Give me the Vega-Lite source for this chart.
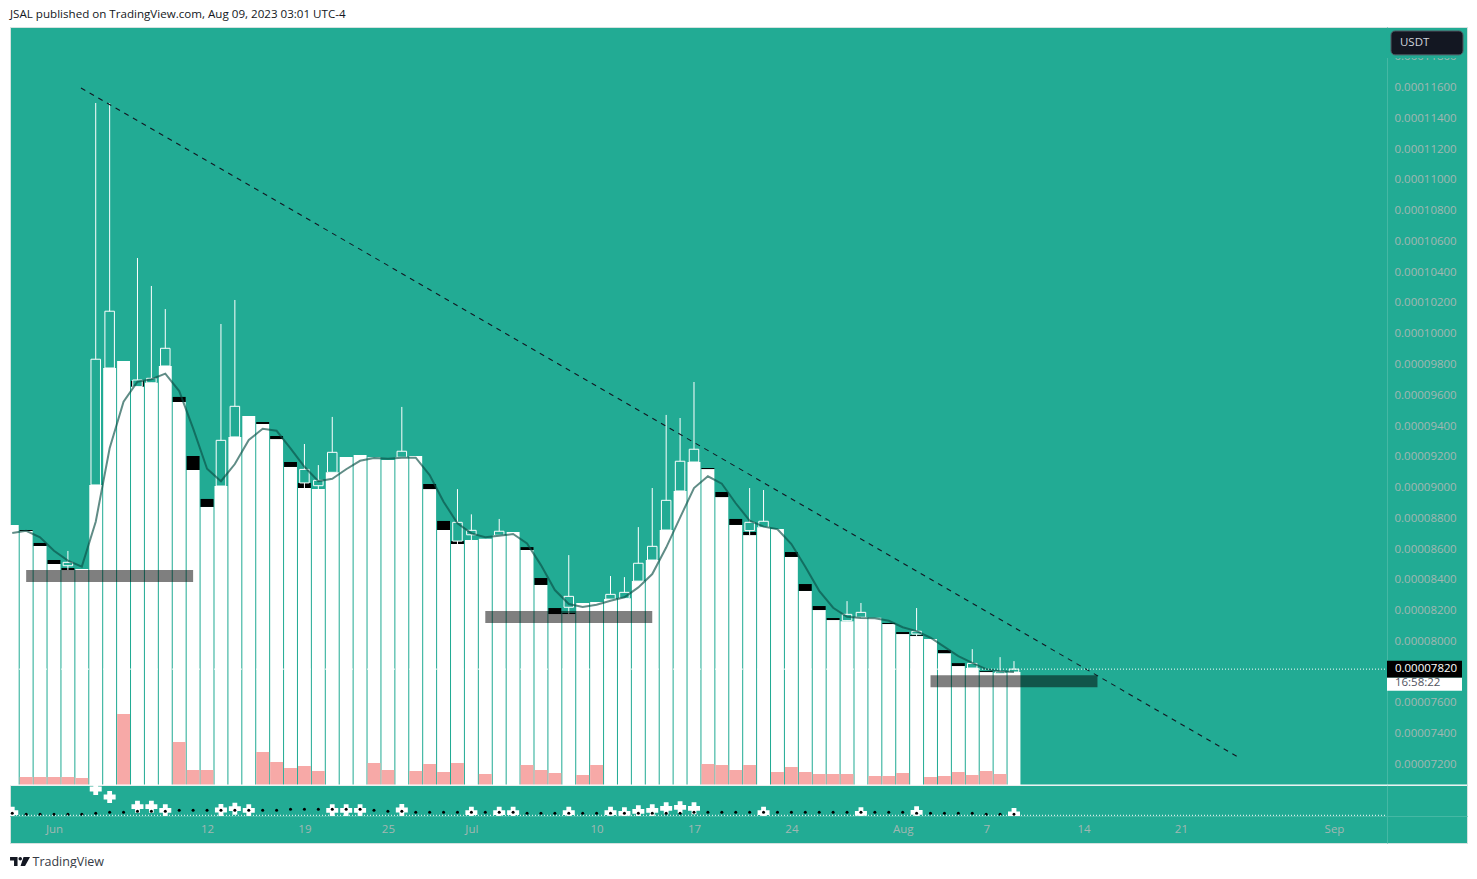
{
  "$schema": "https://vega.github.io/schema/vega-lite/v6.json",
  "background": "#ffffff",
  "padding": {"left": 9, "top": 8, "right": 10, "bottom": 0},
  "spacing": 0,
  "bounds": "flush",
  "title": {"text": "JSAL published on TradingView.com, Aug 09, 2023 03:01 UTC-4", "anchor": "start", "frame": "group", "fontSize": 11.6, "fontWeight": "normal", "font": "Open Sans", "color": "#131722", "offset": 6},
  "config": {
    "font": "Open Sans",
    "view": {"fill": "#22ab94", "stroke": "#d5e2e0"},
    "axis": {"grid": false, "ticks": false, "labelColor": "#a2b7b3", "labelFont": "Open Sans", "labelFontSize": 11.5, "domainColor": "#45b8a4", "labelOverlap": false, "labelFlush": false, "labelBound": false}
  },
  "data": {"name": "days"},
  "datasets": {
    "days": [
      {"date": "2023-05-29", "base": 0.00008757, "ma": 0.00008705, "dot": 2.7, "cross": 3.3},
      {"date": "2023-05-30", "base": 0.00008717, "blackTop": 0.00008724, "ma": 0.00008719, "pink": 8, "dot": 1.7},
      {"date": "2023-05-31", "base": 0.0000862, "blackTop": 0.0000864, "ma": 0.00008677, "pink": 8, "dot": 1.7},
      {"date": "2023-06-01", "base": 0.00008503, "blackTop": 0.00008529, "ma": 0.00008589, "pink": 8, "dot": 1.7},
      {"date": "2023-06-02", "base": 0.00008464, "blackTop": 0.00008477, "open": 0.00008492, "close": 0.00008514, "high": 0.00008588, "low": 0.00008464, "ma": 0.00008525, "pink": 8, "dot": 1.7},
      {"date": "2023-06-03", "base": 0.0000847, "ma": 0.00008486, "pink": 7, "dot": 1.7},
      {"date": "2023-06-04", "base": 0.00009017, "open": 0.00009017, "close": 0.00009834, "high": 0.00011499, "low": 0.00009017, "ma": 0.00008778, "dot": 2.7, "cross": 27},
      {"date": "2023-06-05", "base": 0.00009777, "open": 0.00009777, "close": 0.00010146, "high": 0.00011499, "low": 0.00009777, "ma": 0.00009255, "dot": 3.7, "cross": 19},
      {"date": "2023-06-06", "base": 0.00009822, "ma": 0.00009558, "pink": 71, "dot": 3.7},
      {"date": "2023-06-07", "base": 0.00009656, "blackTop": 0.00009693, "open": 0.00009656, "close": 0.00009699, "high": 0.00010492, "low": 0.00009656, "ma": 0.00009688, "dot": 4.7, "cross": 9.3},
      {"date": "2023-06-08", "base": 0.00009681, "open": 0.00009681, "close": 0.0000971, "high": 0.0001031, "low": 0.00009681, "ma": 0.00009704, "dot": 4.7, "cross": 9.3},
      {"date": "2023-06-09", "base": 0.0000979, "open": 0.0000979, "close": 0.00009905, "high": 0.0001016, "low": 0.0000979, "ma": 0.0000974, "dot": 4.7, "cross": 5.7},
      {"date": "2023-06-10", "base": 0.00009556, "blackTop": 0.00009589, "ma": 0.00009627, "pink": 43, "dot": 5.7},
      {"date": "2023-06-11", "base": 0.00009114, "blackTop": 0.00009205, "ma": 0.00009385, "pink": 15, "dot": 5.7},
      {"date": "2023-06-12", "base": 0.00008874, "blackTop": 0.00008926, "ma": 0.00009122, "pink": 15, "dot": 5.7},
      {"date": "2023-06-13", "base": 0.0000901, "open": 0.0000901, "close": 0.00009307, "high": 0.00010063, "low": 0.0000901, "ma": 0.00009041, "dot": 5.7, "cross": 6},
      {"date": "2023-06-14", "base": 0.00009329, "open": 0.00009329, "close": 0.00009528, "high": 0.00010219, "low": 0.00009329, "ma": 0.00009153, "dot": 5.7, "cross": 7.3},
      {"date": "2023-06-15", "base": 0.00009465, "ma": 0.00009309, "dot": 5.7, "cross": 5.7},
      {"date": "2023-06-16", "base": 0.00009413, "blackTop": 0.00009426, "ma": 0.00009382, "pink": 33, "dot": 5.7},
      {"date": "2023-06-17", "base": 0.00009315, "blackTop": 0.00009335, "ma": 0.00009369, "pink": 23, "dot": 5.7},
      {"date": "2023-06-18", "base": 0.00009134, "blackTop": 0.00009166, "ma": 0.00009255, "pink": 17, "dot": 6.7},
      {"date": "2023-06-19", "base": 0.00008997, "blackTop": 0.0000903, "open": 0.0000903, "close": 0.00009118, "high": 0.00009283, "low": 0.00008997, "ma": 0.00009135, "pink": 19, "dot": 6.7},
      {"date": "2023-06-20", "base": 0.0000899, "open": 0.00009012, "close": 0.00009047, "high": 0.00009146, "low": 0.0000899, "ma": 0.00009041, "pink": 14, "dot": 6.7},
      {"date": "2023-06-21", "base": 0.00009099, "open": 0.00009099, "close": 0.00009229, "high": 0.00009459, "low": 0.00009099, "ma": 0.00009057, "dot": 6.7, "cross": 5.7},
      {"date": "2023-06-22", "base": 0.00009199, "ma": 0.00009119, "dot": 6.7, "cross": 5.7},
      {"date": "2023-06-23", "base": 0.00009211, "ma": 0.00009174, "dot": 6.7, "cross": 5.7},
      {"date": "2023-06-24", "base": 0.00009197, "ma": 0.00009192, "pink": 22, "dot": 5.7},
      {"date": "2023-06-25", "base": 0.00009179, "ma": 0.00009187, "pink": 15, "dot": 4.7},
      {"date": "2023-06-26", "base": 0.00009197, "open": 0.00009197, "close": 0.00009236, "high": 0.00009524, "low": 0.00009197, "ma": 0.00009194, "dot": 4.7, "cross": 6},
      {"date": "2023-06-27", "base": 0.00009205, "ma": 0.00009194, "pink": 14, "dot": 3.7},
      {"date": "2023-06-28", "base": 0.0000899, "blackTop": 0.00009023, "ma": 0.00009081, "pink": 21, "dot": 3.7},
      {"date": "2023-06-29", "base": 0.00008724, "blackTop": 0.00008783, "ma": 0.00008908, "pink": 13, "dot": 3.7},
      {"date": "2023-06-30", "base": 0.00008633, "blackTop": 0.00008652, "open": 0.00008652, "close": 0.00008774, "high": 0.0000899, "low": 0.00008633, "ma": 0.00008767, "pink": 22, "dot": 3.7},
      {"date": "2023-07-01", "base": 0.00008659, "open": 0.00008693, "close": 0.00008722, "high": 0.00008826, "low": 0.00008659, "ma": 0.00008702, "dot": 3.7, "cross": 3.3},
      {"date": "2023-07-02", "base": 0.00008667, "ma": 0.00008677, "pink": 11, "dot": 3.7},
      {"date": "2023-07-03", "base": 0.0000869, "open": 0.0000869, "close": 0.00008716, "high": 0.00008796, "low": 0.0000869, "ma": 0.00008687, "dot": 3.7, "cross": 3.3},
      {"date": "2023-07-04", "base": 0.00008711, "ma": 0.00008698, "dot": 3.7, "cross": 3.3},
      {"date": "2023-07-05", "base": 0.00008594, "blackTop": 0.00008613, "ma": 0.00008637, "pink": 20, "dot": 2.7},
      {"date": "2023-07-06", "base": 0.00008367, "blackTop": 0.00008412, "ma": 0.00008496, "pink": 15, "dot": 2.7},
      {"date": "2023-07-07", "base": 0.00008178, "blackTop": 0.00008217, "ma": 0.00008334, "pink": 12, "dot": 2.7},
      {"date": "2023-07-08", "base": 0.00008178, "blackTop": 0.00008185, "open": 0.00008222, "close": 0.00008293, "high": 0.00008561, "low": 0.00008178, "ma": 0.00008243, "dot": 2.7, "cross": 3.3},
      {"date": "2023-07-09", "base": 0.0000825, "ma": 0.00008224, "pink": 10, "dot": 2.7},
      {"date": "2023-07-10", "base": 0.00008256, "ma": 0.00008238, "pink": 20, "dot": 2.7},
      {"date": "2023-07-11", "base": 0.00008275, "open": 0.00008275, "close": 0.00008306, "high": 0.00008425, "low": 0.00008275, "ma": 0.00008264, "dot": 2.7, "cross": 3.3},
      {"date": "2023-07-12", "base": 0.0000828, "open": 0.0000828, "close": 0.00008319, "high": 0.00008418, "low": 0.0000828, "ma": 0.00008287, "dot": 2.7, "cross": 2.7},
      {"date": "2023-07-13", "base": 0.00008392, "open": 0.00008392, "close": 0.00008508, "high": 0.00008743, "low": 0.00008392, "ma": 0.00008351, "dot": 2.7, "cross": 4.7},
      {"date": "2023-07-14", "base": 0.00008529, "open": 0.00008529, "close": 0.00008618, "high": 0.00008997, "low": 0.00008529, "ma": 0.00008438, "dot": 2.7, "cross": 5.7},
      {"date": "2023-07-15", "base": 0.00008724, "open": 0.00008724, "close": 0.00008917, "high": 0.00009472, "low": 0.00008724, "ma": 0.0000861, "dot": 2.7, "cross": 7.7},
      {"date": "2023-07-16", "base": 0.00008978, "open": 0.00008978, "close": 0.00009171, "high": 0.00009452, "low": 0.00008978, "ma": 0.00008805, "dot": 2.7, "cross": 8.7},
      {"date": "2023-07-17", "base": 0.00009166, "open": 0.00009166, "close": 0.00009249, "high": 0.00009686, "low": 0.00009166, "ma": 0.00008997, "dot": 3.7, "cross": 7.7},
      {"date": "2023-07-18", "base": 0.0000912, "blackTop": 0.00009127, "ma": 0.00009073, "pink": 21, "dot": 3.7},
      {"date": "2023-07-19", "base": 0.00008938, "blackTop": 0.00008971, "ma": 0.00009025, "pink": 20, "dot": 3.7},
      {"date": "2023-07-20", "base": 0.00008757, "blackTop": 0.00008796, "ma": 0.00008898, "pink": 15, "dot": 3.7},
      {"date": "2023-07-21", "base": 0.00008691, "blackTop": 0.00008711, "open": 0.0000872, "close": 0.00008774, "high": 0.00008997, "low": 0.00008691, "ma": 0.00008785, "pink": 20, "dot": 3.7},
      {"date": "2023-07-22", "base": 0.00008742, "open": 0.00008742, "close": 0.00008781, "high": 0.00008984, "low": 0.00008742, "ma": 0.00008746, "dot": 3.7, "cross": 3.3},
      {"date": "2023-07-23", "base": 0.00008731, "ma": 0.00008729, "pink": 13, "dot": 3.7},
      {"date": "2023-07-24", "base": 0.00008549, "blackTop": 0.00008581, "ma": 0.00008633, "pink": 18, "dot": 3.7},
      {"date": "2023-07-25", "base": 0.00008328, "blackTop": 0.00008373, "ma": 0.00008486, "pink": 13, "dot": 3.7},
      {"date": "2023-07-26", "base": 0.00008204, "blackTop": 0.0000823, "ma": 0.00008329, "pink": 11, "dot": 3.7},
      {"date": "2023-07-27", "base": 0.00008139, "blackTop": 0.00008152, "ma": 0.00008219, "pink": 11, "dot": 3.7},
      {"date": "2023-07-28", "base": 0.00008131, "open": 0.00008135, "close": 0.00008176, "high": 0.00008262, "low": 0.00008131, "ma": 0.0000816, "pink": 11, "dot": 3.7},
      {"date": "2023-07-29", "base": 0.00008157, "open": 0.00008157, "close": 0.00008189, "high": 0.0000825, "low": 0.00008157, "ma": 0.00008152, "dot": 3.7, "cross": 2.7},
      {"date": "2023-07-30", "base": 0.00008154, "ma": 0.0000815, "pink": 9, "dot": 3.7},
      {"date": "2023-07-31", "base": 0.00008113, "blackTop": 0.0000812, "ma": 0.00008134, "pink": 9, "dot": 3.7},
      {"date": "2023-08-01", "base": 0.00008048, "blackTop": 0.00008061, "ma": 0.00008092, "pink": 12, "dot": 3.7},
      {"date": "2023-08-02", "base": 0.00008035, "blackTop": 0.00008041, "open": 0.00008048, "close": 0.00008066, "high": 0.00008217, "low": 0.00008035, "ma": 0.00008067, "dot": 2.7, "cross": 3.7},
      {"date": "2023-08-03", "base": 0.00008016, "ma": 0.00008024, "pink": 8, "dot": 2.7},
      {"date": "2023-08-04", "base": 0.00007924, "blackTop": 0.00007944, "ma": 0.00007965, "pink": 9, "dot": 2.7},
      {"date": "2023-08-05", "base": 0.0000784, "blackTop": 0.00007859, "ma": 0.00007905, "pink": 13, "dot": 2.7},
      {"date": "2023-08-06", "base": 0.00007827, "open": 0.00007827, "close": 0.00007857, "high": 0.0000795, "low": 0.00007827, "ma": 0.00007861, "pink": 10, "dot": 2.7},
      {"date": "2023-08-07", "base": 0.00007801, "blackTop": 0.00007807, "ma": 0.0000782, "pink": 14, "dot": 1.7},
      {"date": "2023-08-08", "base": 0.00007796, "open": 0.0000779, "close": 0.00007803, "high": 0.00007898, "low": 0.0000779, "ma": 0.00007807, "pink": 11, "dot": 1.7},
      {"date": "2023-08-09", "base": 0.00007801, "open": 0.00007801, "close": 0.0000782, "high": 0.00007872, "low": 0.00007801, "ma": 0.00007801, "dot": 1.7, "cross": 2}
    ],
    "zones": [
      {"date": "2023-05-30T00:00:00Z", "date2": "2023-06-11T00:00:00Z", "top": 0.00008464, "bottom": 0.00008386},
      {"date": "2023-07-02T00:00:00Z", "date2": "2023-07-14T00:00:00Z", "top": 0.00008197, "bottom": 0.00008119},
      {"date": "2023-08-03T00:00:00Z", "date2": "2023-08-15T00:00:00Z", "top": 0.00007781, "bottom": 0.00007703}
    ],
    "trend": [
      {"date": "2023-06-02T22:34:00Z", "price": 0.00011597},
      {"date": "2023-08-25T02:24:00Z", "price": 0.00007249}
    ]
  },
  "vconcat": [
    {
      "width": 1457,
      "height": 758,
      "encoding": {
        "x": {"field": "date", "type": "temporal", "axis": null, "scale": {"type": "utc", "padding": 0, "domain": [{"year": 2023, "month": 5, "date": 28, "hours": 20, "minutes": 7, "utc": true}, {"year": 2023, "month": 9, "date": 10, "hours": 13, "minutes": 26, "utc": true}]}}
      },
      "layer": [
        {
          "mark": {"type": "bar", "width": 12.9, "color": "#ffffff", "clip": true},
          "encoding": {
            "y": {
              "field": "base", "type": "quantitative", "scale": {"domain": [0.00007067, 0.00011993], "nice": false, "zero": false},
              "axis": {"orient": "right", "offset": -80, "title": null, "labelPadding": 7, "labelAlign": "left", "format": ".8f", "values": [0.000072, 0.000074, 0.000076, 0.00008, 0.000082, 0.000084, 0.000086, 0.000088, 0.00009, 0.000092, 0.000094, 0.000096, 0.000098, 0.0001, 0.000102, 0.000104, 0.000106, 0.000108, 0.00011, 0.000112, 0.000114, 0.000116, 0.000118]}
            },
            "y2": {"datum": 0.00007067}
          }
        },
        {
          "transform": [{"filter": "datum.pink != null"}],
          "mark": {"type": "bar", "width": 12.9, "color": "#f7a9a7", "clip": true},
          "encoding": {
            "y": {"field": "pink", "type": "quantitative", "axis": null, "scale": {"domain": [0, 758], "nice": false}}
          }
        },
        {
          "layer": [
            {
              "transform": [{"filter": "datum.blackTop != null"}],
              "mark": {"type": "bar", "width": 12.9, "color": "#000000"},
              "encoding": {
                "y": {"field": "blackTop", "type": "quantitative", "axis": null, "scale": {"domain": [0.00007067, 0.00011993], "nice": false, "zero": false}},
                "y2": {"field": "base"}
              }
            },
            {
              "transform": [{"filter": "datum.close != null"}],
              "mark": {"type": "rule", "color": "#ffffff", "strokeWidth": 1},
              "encoding": {"y": {"field": "high", "type": "quantitative", "axis": null}, "y2": {"field": "low"}}
            },
            {
              "transform": [{"filter": "datum.close != null"}],
              "mark": {"type": "bar", "width": 9.5, "fill": "#22ab94", "stroke": "#ffffff", "strokeWidth": 1},
              "encoding": {"y": {"field": "close", "type": "quantitative", "axis": null}, "y2": {"field": "open"}}
            },
            {
              "mark": {"type": "line", "color": "#0b4f45", "strokeWidth": 2, "opacity": 0.65, "clip": true},
              "encoding": {"y": {"field": "ma", "type": "quantitative", "axis": null}}
            },
            {
              "data": {"name": "trend"},
              "mark": {"type": "line", "color": "#131722", "strokeWidth": 1.1, "strokeDash": [5, 5]},
              "encoding": {"y": {"field": "price", "type": "quantitative", "axis": null}}
            },
            {
              "data": {"name": "zones"},
              "mark": {"type": "rect", "color": "#000000", "opacity": 0.5},
              "encoding": {"x2": {"field": "date2"}, "y": {"field": "top", "type": "quantitative", "axis": null}, "y2": {"field": "bottom"}}
            },
            {
              "data": {"values": [{"date": "2023-05-28T20:07:00Z", "date2": "2023-09-04T18:00:00Z", "price": 0.0000782}]},
              "mark": {"type": "rule", "color": "#ffffff", "strokeWidth": 1, "strokeDash": [1, 2]},
              "encoding": {"x2": {"field": "date2"}, "y": {"field": "price", "type": "quantitative", "axis": null}}
            },
            {
              "data": {"values": [{"date": "2023-09-04T19:00:00Z", "date2": "2023-09-10T13:00:00Z", "top": 0.00011985, "bottom": 0.00011792}]},
              "mark": {"type": "rect", "color": "#22ab94"},
              "encoding": {"x2": {"field": "date2"}, "y": {"field": "top", "type": "quantitative", "axis": null}, "y2": {"field": "bottom"}}
            },
            {
              "data": {"values": [{"date": "2023-09-05T02:24:00Z", "date2": "2023-09-10T06:29:00Z", "top": 0.00011967, "bottom": 0.00011812}]},
              "mark": {"type": "rect", "color": "#131722", "stroke": "#50535e", "strokeWidth": 1, "cornerRadius": 4},
              "encoding": {"x2": {"field": "date2"}, "y": {"field": "top", "type": "quantitative", "axis": null}, "y2": {"field": "bottom"}}
            },
            {
              "data": {"values": [{"date": "2023-09-05T17:46:00Z", "price": 0.00011886, "label": "USDT"}]},
              "mark": {"type": "text", "align": "left", "baseline": "middle", "fontSize": 11.5, "color": "#d1d4dc"},
              "encoding": {"y": {"field": "price", "type": "quantitative", "axis": null}, "text": {"field": "label"}}
            },
            {
              "data": {"values": [{"date": "2023-09-04T19:26:00Z", "date2": "2023-09-10T04:48:00Z", "top": 0.00007875, "bottom": 0.00007764}]},
              "mark": {"type": "rect", "color": "#000000"},
              "encoding": {"x2": {"field": "date2"}, "y": {"field": "top", "type": "quantitative", "axis": null}, "y2": {"field": "bottom"}}
            },
            {
              "data": {"values": [{"date": "2023-09-04T19:26:00Z", "date2": "2023-09-10T04:48:00Z", "top": 0.00007764, "bottom": 0.00007679}]},
              "mark": {"type": "rect", "color": "#ffffff"},
              "encoding": {"x2": {"field": "date2"}, "y": {"field": "top", "type": "quantitative", "axis": null}, "y2": {"field": "bottom"}}
            },
            {
              "data": {"values": [{"date": "2023-09-05T09:07:00Z", "price": 0.0000782, "label": "0.00007820"}]},
              "mark": {"type": "text", "align": "left", "baseline": "middle", "fontSize": 11.5, "color": "#ffffff"},
              "encoding": {"y": {"field": "price", "type": "quantitative", "axis": null}, "text": {"field": "label"}}
            },
            {
              "data": {"values": [{"date": "2023-09-05T09:07:00Z", "price": 0.00007729, "label": "16:58:22"}]},
              "mark": {"type": "text", "align": "left", "baseline": "middle", "fontSize": 11.5, "color": "#50535e"},
              "encoding": {"y": {"field": "price", "type": "quantitative", "axis": null}, "text": {"field": "label"}}
            }
          ]
        }
      ],
      "resolve": {"scale": {"y": "independent"}}
    },
    {
      "width": 1457,
      "height": 31,
      "encoding": {
        "x": {"field": "date", "type": "temporal", "axis": null, "scale": {"type": "utc", "padding": 0, "domain": [{"year": 2023, "month": 5, "date": 28, "hours": 20, "minutes": 7, "utc": true}, {"year": 2023, "month": 9, "date": 10, "hours": 13, "minutes": 26, "utc": true}]}}
      },
      "layer": [
        {
          "transform": [{"filter": "datum.cross != null"}],
          "mark": {"type": "point", "shape": "cross", "filled": true, "size": 144, "color": "#ffffff", "opacity": 1, "clip": true},
          "encoding": {
            "y": {"field": "cross", "type": "quantitative", "scale": {"domain": [0, 31], "nice": false}, "axis": {"orient": "right", "offset": -80, "title": null, "labels": false, "values": []}}
          }
        },
        {
          "mark": {"type": "point", "filled": true, "size": 9, "color": "#000000", "opacity": 1},
          "encoding": {"y": {"field": "dot", "type": "quantitative"}}
        },
        {
          "data": {"values": [{"date": "2023-05-28T20:07:00Z", "date2": "2023-09-04T18:00:00Z", "level": 0.7}]},
          "mark": {"type": "rule", "color": "#ffffff", "strokeWidth": 1, "strokeDash": [1, 2]},
          "encoding": {"x2": {"field": "date2"}, "y": {"field": "level", "type": "quantitative"}}
        },
        {
          "data": {"values": [{"date": "2023-05-28T20:07:00Z", "date2": "2023-09-10T13:26:00Z", "level": 31}]},
          "mark": {"type": "rule", "color": "#ffffff", "strokeWidth": 1},
          "encoding": {"x2": {"field": "date2"}, "y": {"field": "level", "type": "quantitative"}}
        }
      ]
    },
    {
      "width": 1457,
      "height": 27,
      "data": {"values": [{"date": "2023-05-29T13:26:00Z", "level": -45.5}]},
      "mark": {"type": "point", "shape": "M-1,-0.45 H-0.25 V0.45 H-0.6 V-0.1 H-1 Z M0.35,-0.45 H1 L0.5,0.45 H0.05 Z M0.02,-0.45 A0.17,0.17 0 1 1 0.02,-0.1 A0.17,0.17 0 1 1 0.02,-0.45 Z", "filled": true, "size": 400, "color": "#131722", "opacity": 1, "clip": false},
      "encoding": {
        "x": {
          "field": "date", "type": "temporal",
          "scale": {"type": "utc", "domain": [{"year": 2023, "month": 5, "date": 28, "hours": 20, "minutes": 7, "utc": true}, {"year": 2023, "month": 9, "date": 10, "hours": 13, "minutes": 26, "utc": true}]},
          "axis": {
            "orient": "bottom", "offset": -27, "zindex": 1, "labelPadding": 7,
            "labelAngle": 0,
            "values": [
              {"year": 2023, "month": 6, "date": 1, "utc": true}, {"year": 2023, "month": 6, "date": 12, "utc": true}, {"year": 2023, "month": 6, "date": 19, "utc": true}, {"year": 2023, "month": 6, "date": 25, "utc": true},
              {"year": 2023, "month": 7, "date": 1, "utc": true}, {"year": 2023, "month": 7, "date": 10, "utc": true}, {"year": 2023, "month": 7, "date": 17, "utc": true}, {"year": 2023, "month": 7, "date": 24, "utc": true},
              {"year": 2023, "month": 8, "date": 1, "utc": true}, {"year": 2023, "month": 8, "date": 7, "utc": true}, {"year": 2023, "month": 8, "date": 14, "utc": true}, {"year": 2023, "month": 8, "date": 21, "utc": true},
              {"year": 2023, "month": 9, "date": 1, "utc": true}
            ],
            "labelExpr": "utcdate(datum.value) == 1 ? utcFormat(datum.value, '%b') : utcFormat(datum.value, '%-d')",
            "title": "TradingView", "titleX": 22, "titleY": 45, "titleAlign": "left", "titleBaseline": "middle", "titleFontWeight": "normal", "titleFontSize": 12.5, "titleColor": "#363a45", "titleFont": "Open Sans"
          }
        },
        "y": {"field": "level", "type": "quantitative", "scale": {"domain": [-27, 0], "nice": false}, "axis": {"orient": "right", "offset": -80, "title": null, "labels": false, "values": []}}
      }
    }
  ]
}
